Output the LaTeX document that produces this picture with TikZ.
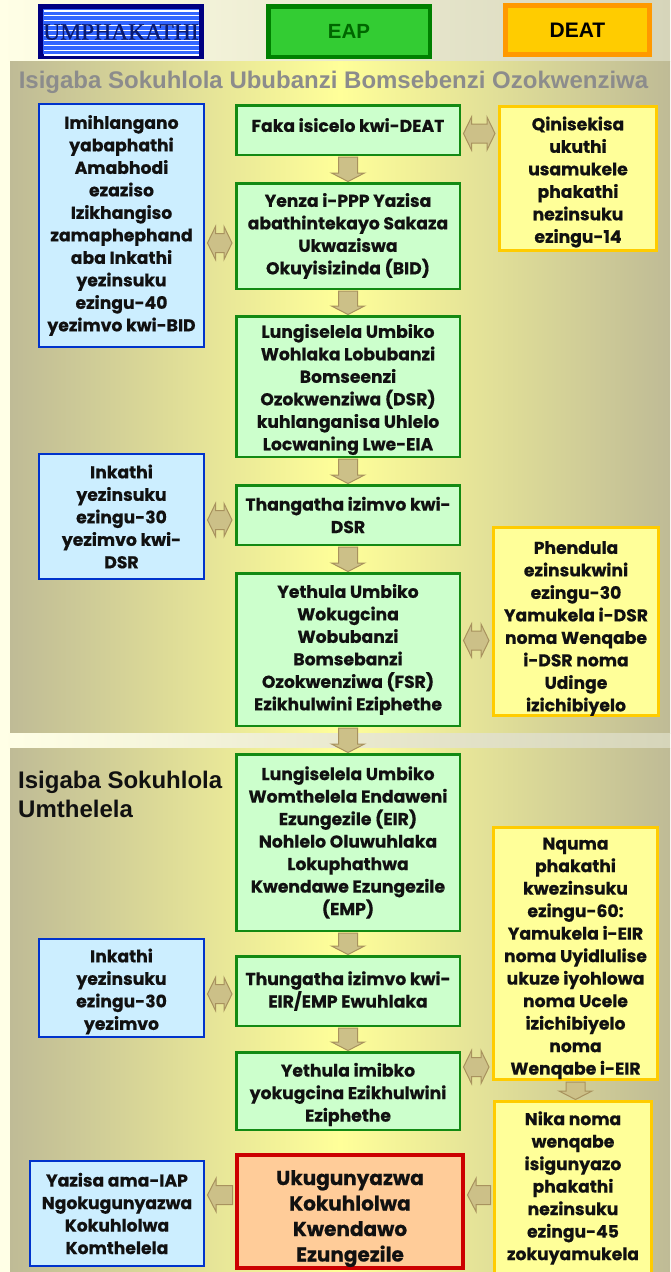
\documentclass[tikz,border=0pt]{standalone}
\usepackage{fontspec}
\setmainfont{Poppins}[BoldFeatures={FakeBold=0.5}]
\newfontfamily\arialf{Liberation Sans}
\newfontfamily\timesf{Liberation Serif}[FakeBold=0.8]
\usetikzlibrary{calc}
\definecolor{cream}{HTML}{FFFFE6}
\definecolor{hdrR}{HTML}{D6D5BA}
\definecolor{panelE}{HTML}{BFBB96}
\definecolor{panelM}{HTML}{FFFF99}
\definecolor{gfill}{HTML}{CCFFCC}
\definecolor{gline}{HTML}{138A13}
\definecolor{bfill}{HTML}{CCEEFF}
\definecolor{bline}{HTML}{0033CC}
\definecolor{yfill}{HTML}{FFFF99}
\definecolor{yline}{HTML}{FFCC00}
\definecolor{rfill}{HTML}{FFCC99}
\definecolor{rline}{HTML}{CC0000}
\definecolor{afill}{HTML}{CCC088}
\definecolor{aline}{HTML}{A8925E}
\definecolor{navy}{HTML}{000080}
\definecolor{stripe}{HTML}{3366FF}
\definecolor{umphtext}{HTML}{0A1A70}
\definecolor{eapfill}{HTML}{33CC33}
\definecolor{eapline}{HTML}{008000}
\definecolor{eaptext}{HTML}{006600}
\definecolor{deatfill}{HTML}{FFCC00}
\definecolor{deatline}{HTML}{FF9900}
\definecolor{titlegrey}{HTML}{8C8C8C}
\definecolor{txt}{HTML}{111111}
\newcommand\dn[1]{\rule{0pt}{#1pt}}
\newcommand\upr[1]{\rule[-#1pt]{0pt}{#1pt}}
\newcommand\vblk[2]{\path[blockarrow] let \p1=(#1), \p2=(#2) in
  (\x1-9.5pt,\y1-1pt) -- (\x1+9.5pt,\y1-1pt) -- (\x1+9.5pt,\y2+9pt) -- (\x1+16.5pt,\y2+9pt)
  -- (\x1,\y2+0.5pt) -- (\x1-16.5pt,\y2+9pt) -- (\x1-9.5pt,\y2+9pt) -- cycle;}
\newcommand\hdblk[3]{\path[blockarrow] let \p1=(#1), \p2=(#2), \p3=(0,#3) in
  (\x1+2.5pt,\y3) -- (\x1+10.5pt,\y3+16.5pt) -- (\x1+10.5pt,\y3+9.5pt) -- (\x2-11pt,\y3+9.5pt)
  -- (\x2-11pt,\y3+16.5pt) -- (\x2-3pt,\y3) -- (\x2-11pt,\y3-16.5pt) -- (\x2-11pt,\y3-9.5pt)
  -- (\x1+10.5pt,\y3-9.5pt) -- (\x1+10.5pt,\y3-16.5pt) -- cycle;}
\newcommand\hlblk[3]{\path[blockarrow] let \p1=(#1), \p2=(#2), \p3=(0,#3) in
  (\x2+2.5pt,\y3) -- (\x2+11pt,\y3+16.5pt) -- (\x2+11pt,\y3+9.5pt) -- (\x1-2.5pt,\y3+9.5pt)
  -- (\x1-2.5pt,\y3-9.5pt) -- (\x2+11pt,\y3-9.5pt) -- (\x2+11pt,\y3-16.5pt) -- cycle;}
\begin{document}
\begin{tikzpicture}[x=1pt,y=-1pt,
  blockarrow/.style={fill=afill, draw=aline, line width=1pt, line join=miter},
  box/.style={rectangle, inner sep=0pt, align=center, text=txt,
    font=\bfseries\fontsize{17.2}{22.5}\selectfont},
  gbox/.style={box, fill=gfill, draw=gline, line width=2.5pt},
  bbox/.style={box, fill=bfill, draw=bline, line width=2pt},
  ybox/.style={box, fill=yfill, draw=yline, line width=3pt},
  rbox/.style={box, fill=rfill, draw=rline, line width=4pt,
    font=\bfseries\fontsize{20}{25.5}\selectfont},
  hdr/.style={rectangle, inner sep=0pt}
]
\useasboundingbox (0,0) rectangle (670,1272);
% backgrounds
\fill[cream] (0,0) rectangle (670,1272);
\shade[left color=cream, right color=hdrR] (0,0) rectangle (670,61);
\shade[left color=panelE, right color=panelE, middle color=panelM] (10,61) rectangle (670,733);
\shade[left color=cream, right color=hdrR] (0,733) rectangle (670,748);
\shade[left color=panelE, right color=panelE, middle color=panelM] (10,748) rectangle (670,1272);

% header boxes
\node[hdr, draw=navy, line width=5pt, fill=stripe, minimum width=161pt, minimum height=50pt] (umph) at (121,31.5) {};
\foreach \k in {0,...,9} \draw[white, line width=1.2pt] (43.5,{11+4.89*\k}) -- (198.5,{11+4.89*\k});
\node[font=\timesf\fontsize{23.5}{24}\selectfont, text=umphtext, inner sep=0pt] (umphlabel) at (121,32) {UMPHAKATHI};
\node[hdr, draw=eapline, line width=4.5pt, fill=eapfill, minimum width=161.5pt, minimum height=50.5pt,
  font=\arialf\bfseries\fontsize{20.5}{24}\selectfont, text=eaptext] (eap) at (349,31.5) {EAP};
\node[hdr, draw=deatline, line width=5pt, fill=deatfill, minimum width=144pt, minimum height=49pt,
  font=\arialf\bfseries\fontsize{21}{24}\selectfont, text=black] (deat) at (577.5,30) {DEAT};

% titles
\node[font=\arialf\bfseries\fontsize{24}{28}\selectfont, text=titlegrey, inner sep=0pt] (title1) at (333.5,82) {Isigaba Sokuhlola Ububanzi Bomsebenzi Ozokwenziwa};
\node[font=\arialf\bfseries\fontsize{24}{29}\selectfont, text=txt, inner sep=0pt, align=left, anchor=west] (title2) at (18,794) {Isigaba Sokuhlola\\Umthelela};

% section 1
\node[bbox, minimum width=165pt, minimum height=243pt] (b1) at (121.5,225.5) {Imihlangano\\yabaphathi\\Amabhodi\\ezaziso\\Izikhangiso\\zamaphephand\\aba Inkathi\\yezinsuku\\ezingu-40\\yezimvo kwi-BID};
\node[gbox, minimum width=223.5pt, minimum height=49.5pt] (g1) at (348,130) {Faka isicelo kwi-DEAT\upr{10}};
\node[ybox, minimum width=157pt, minimum height=144pt] (y1) at (578,178.5) {\dn{20.8}Qinisekisa\\ukuthi\\usamukele\\phakathi\\nezinsuku\\ezingu-14};
\node[gbox, minimum width=223.5pt, minimum height=105.5pt] (g2) at (348,236) {Yenza i-PPP Yazisa\\abathintekayo Sakaza\\Ukwaziswa\\Okuyisizinda (BID)};
\node[gbox, minimum width=223.5pt, minimum height=140.5pt] (g3) at (348,386.5) {\dn{19.8}Lungiselela Umbiko\\Wohlaka Lobubanzi\\Bomseenzi\\Ozokwenziwa (DSR)\\kuhlanganisa Uhlelo\\Locwaning Lwe-EIA};
\node[bbox, minimum width=165pt, minimum height=125pt] (b2) at (121.5,516.5) {Inkathi\\yezinsuku\\ezingu-30\\yezimvo kwi-\\DSR};
\node[gbox, minimum width=223.5pt, minimum height=59.5pt] (g4) at (348,515) {Thangatha izimvo kwi-\\DSR};
\node[ybox, minimum width=165pt, minimum height=184pt] (y2) at (576,621.5) {\dn{26.8}Phendula\\ezinsukwini\\ezingu-30\\Yamukela i-DSR\\noma Wenqabe\\i-DSR noma\\Udinge\\izichibiyelo};
\node[gbox, minimum width=223.5pt, minimum height=152.5pt] (g5) at (348,649.5) {Yethula Umbiko\\Wokugcina\\Wobubanzi\\Bomsebanzi\\Ozokwenziwa (FSR)\\Ezikhulwini Eziphethe};

% section 2
\node[gbox, minimum width=223.5pt, minimum height=176.5pt] (g6) at (348,842.5) {Lungiselela Umbiko\\Womthelela Endaweni\\Ezungezile (EIR)\\Nohlelo Oluwuhlaka\\Lokuphathwa\\Kwendawe Ezungezile\\(EMP)};
\node[ybox, minimum width=164pt, minimum height=252pt] (y3) at (575.5,953.5) {\dn{21.8}Nquma\\phakathi\\kwezinsuku\\ezingu-60:\\Yamukela i-EIR\\noma Uyidlulise\\ukuze iyohlowa\\noma Ucele\\izichibiyelo\\noma\\Wenqabe i-EIR};
\node[bbox, minimum width=165pt, minimum height=98pt] (b3) at (121.5,988) {\dn{20.8}Inkathi\\yezinsuku\\ezingu-30\\yezimvo};
\node[gbox, minimum width=223.5pt, minimum height=69.5pt] (g7) at (348,991) {Thungatha izimvo kwi-\\EIR/EMP Ewuhlaka};
\node[gbox, minimum width=223.5pt, minimum height=77.5pt] (g8) at (348,1091) {\dn{20.8}Yethula imibko\\yokugcina Ezikhulwini\\Eziphethe};
\node[ybox, minimum width=157pt, minimum height=173pt] (y4) at (573,1188) {Nika noma\\wenqabe\\isigunyazo\\phakathi\\nezinsuku\\ezingu-45\\zokuyamukela};
\node[rbox, minimum width=226pt, minimum height=113pt] (red) at (350,1211.5) {\dn{29}Ukugunyazwa\\Kokuhlolwa\\Kwendawo\\Ezungezile};
\node[bbox, minimum width=174pt, minimum height=105pt] (b4) at (117,1213.5) {Yazisa ama-IAP\\Ngokugunyazwa\\Kokuhlolwa\\Komthelela};

% down arrows
\vblk{g1.south}{g2.north}
\vblk{g2.south}{g3.north}
\vblk{g3.south}{g4.north}
\vblk{g4.south}{g5.north}
\vblk{g5.south}{g6.north}
\vblk{g6.south}{g7.north}
\vblk{g7.south}{g8.north}
\vblk{y3.south}{y4.north}
% double arrows
\hdblk{g1.east}{y1.west}{133.5}
\hdblk{b1.east}{g2.west}{243}
\hdblk{b2.east}{g4.west}{520}
\hdblk{g5.east}{y2.west}{640.5}
\hdblk{b3.east}{g7.west}{994}
\hdblk{g8.east}{y3.west}{1067}
% single left arrows
\hlblk{red.west}{b4.east}{1195}
\hlblk{y4.west}{red.east}{1195}
\end{tikzpicture}
\end{document}
